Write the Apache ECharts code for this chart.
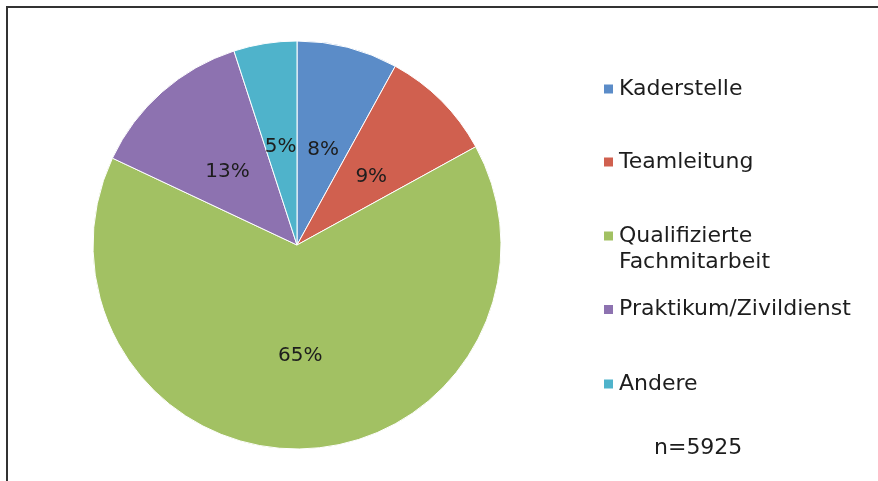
<!DOCTYPE html>
<html>
<head>
<meta charset="utf-8">
<script src="https://cdn.jsdelivr.net/npm/echarts@6/dist/echarts.min.js"></script>
<style>html,body{margin:0;padding:0;background:#fff}#c{width:878px;height:481px}</style>
</head>
<body>
<div id="c"></div>
<script>
const categories = ['Kaderstelle', 'Teamleitung', 'Qualifizierte\nFachmitarbeit', 'Praktikum/Zivildienst', 'Andere'];
const values = [8, 9, 65, 13, 5];
const colors = ['#5b8cc8', '#d0604f', '#a2c163', '#8d72b0', '#4fb3cb'];
const sampleNote = 'n=5925';

const chart = echarts.init(document.getElementById('c'));
const font = 'DejaVu Sans';
const legendTops = [76, 149, 197, 296.5, 371];
const legends = categories.map((name, i) => ({
  orient: 'vertical',
  left: 602,
  top: legendTops[i],
  data: [name],
  icon: 'rect',
  itemWidth: 11,
  itemHeight: 11,
  itemGap: 0,
  padding: 0,
  selectedMode: false,
  formatter: n => (n.indexOf('\n') >= 0 ? ' \n' + n : n),
  textStyle: { fontFamily: font, fontSize: 22, color: '#1d1d1d', lineHeight: 26 }
}));

chart.setOption({
  backgroundColor: '#fff',
  animation: false,
  color: colors,
  title: {
    text: sampleNote,
    left: 654,
    top: 437,
    padding: 0,
    textStyle: { fontFamily: font, fontSize: 22, fontWeight: 'normal', color: '#1d1d1d' }
  },
  legend: legends,
  graphic: [
    { type: 'line', shape: { x1: 6, y1: 7, x2: 878, y2: 7 }, style: { stroke: '#333', lineWidth: 2 } },
    { type: 'line', shape: { x1: 7, y1: 6, x2: 7, y2: 481 }, style: { stroke: '#333', lineWidth: 2 } }
  ],
  series: [{
    type: 'pie',
    center: [297, 245],
    radius: [0, 204],
    startAngle: 90,
    clockwise: true,
    data: categories.map((n, i) => ({ name: n, value: values[i] })),
    itemStyle: { borderColor: '#fff', borderWidth: 1 },
    label: {
      show: true,
      position: 'inside',
      formatter: p => p.value + '%',
      fontFamily: font,
      fontSize: 20,
      color: '#1d1d1d',
      textBorderWidth: 0,
      offset: [0, 6]
    },
    labelLine: { show: false },
    emphasis: { disabled: true }
  }]
});
</script>
</body>
</html>
